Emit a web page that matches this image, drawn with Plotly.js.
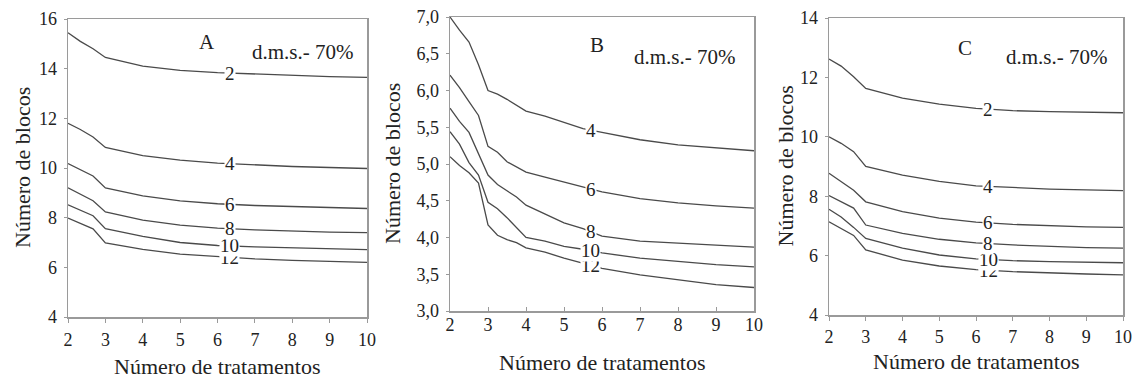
<!DOCTYPE html>
<html>
<head>
<meta charset="utf-8">
<script src="https://cdn.plot.ly/plotly-3.0.1.min.js"></script>
<style>html,body{margin:0;padding:0;background:#fff;}#chart{width:1139px;height:380px;}</style>
</head>
<body>
<div id="chart"></div>
<script>
// ---- Data ----
const curveNames = ['2', '4', '6', '8', '10', '12'];

// Panel A
const xA = [2, 2.33, 2.67, 3, 4, 5, 6, 7, 8, 9, 10];
const a2  = [15.45, 15.1, 14.8, 14.45, 14.1, 13.93, 13.84, 13.78, 13.73, 13.68, 13.65];
const a4  = [11.8, 11.55, 11.25, 10.83, 10.5, 10.32, 10.2, 10.12, 10.06, 10.02, 9.98];
const a6  = [10.18, 9.95, 9.68, 9.2, 8.88, 8.68, 8.56, 8.49, 8.45, 8.41, 8.37];
const a8  = [9.2, 8.95, 8.68, 8.23, 7.9, 7.7, 7.58, 7.51, 7.46, 7.42, 7.40];
const a10 = [8.52, 8.3, 8.08, 7.56, 7.25, 7.0, 6.88, 6.82, 6.78, 6.74, 6.71];
const a12 = [7.98, 7.77, 7.55, 6.98, 6.72, 6.53, 6.42, 6.34, 6.28, 6.24, 6.20];

// Panel B
const xB = [2, 2.25, 2.5, 2.75, 3, 3.25, 3.5, 3.75, 4, 4.5, 5, 5.5, 6, 7, 8, 9, 10];
const b4  = [7.0, 6.82, 6.66, 6.35, 6.0, 5.95, 5.88, 5.80, 5.72, 5.65, 5.57, 5.48, 5.43, 5.33, 5.26, 5.22, 5.18];
const b6  = [6.21, 6.04, 5.85, 5.66, 5.24, 5.16, 5.03, 4.96, 4.89, 4.82, 4.75, 4.68, 4.62, 4.53, 4.47, 4.43, 4.40];
const b8  = [5.76, 5.58, 5.43, 5.15, 4.85, 4.72, 4.63, 4.55, 4.44, 4.32, 4.20, 4.12, 4.02, 3.95, 3.92, 3.89, 3.87];
const b10 = [5.44, 5.27, 5.02, 4.85, 4.48, 4.39, 4.27, 4.13, 4.0, 3.95, 3.88, 3.84, 3.79, 3.72, 3.67, 3.63, 3.60];
const b12 = [5.10, 4.98, 4.88, 4.74, 4.17, 4.03, 3.97, 3.93, 3.86, 3.80, 3.72, 3.65, 3.58, 3.49, 3.42, 3.36, 3.32];

// Panel C
const xC = [2, 2.33, 2.67, 3, 4, 5, 6, 7, 8, 9, 10];
const c2  = [12.62, 12.38, 12.02, 11.63, 11.3, 11.1, 10.96, 10.88, 10.85, 10.83, 10.81];
const c4  = [10.0, 9.78, 9.5, 9.0, 8.71, 8.5, 8.35, 8.29, 8.24, 8.21, 8.19];
const c6  = [8.77, 8.5, 8.2, 7.81, 7.48, 7.26, 7.13, 7.05, 7.0, 6.97, 6.95];
const c8  = [8.02, 7.82, 7.6, 7.03, 6.75, 6.55, 6.43, 6.36, 6.31, 6.27, 6.25];
const c10 = [7.56, 7.3, 6.95, 6.58, 6.25, 6.02, 5.89, 5.83, 5.80, 5.78, 5.76];
const c12 = [7.14, 6.92, 6.68, 6.19, 5.85, 5.65, 5.53, 5.46, 5.41, 5.38, 5.35];

const xTicks = [2, 3, 4, 5, 6, 7, 8, 9, 10];
const xTitle = 'Número de tratamentos';
const yTitle = 'Número de blocos';
const dmsText = 'd.m.s.- 70%';

// ---- Build ----
const FONT = 'Liberation Serif';
const LINE = '#4a4a4a';
const AX = '#9a9a9a';

const panels = [
  {id: '', x: xA, series: [a2, a4, a6, a8, a10, a12], names: curveNames, letter: 'A',
   labelX: 6.33, yr: [4, 16], dtick: 2, fmt: 'd', px: [68, 367], py: [19, 317],
   letterPos: [207, 42], dmsPos: [303, 52], ytitleX: 22, xtitleY: 366, xtickStand: 2, xticks: 'outside'},
  {id: '2', x: xB, series: [b4, b6, b8, b10, b12], names: ['4', '6', '8', '10', '12'], letter: 'B',
   labelX: 5.7, yr: [3, 7], dtick: 0.5, fmt: '.1f', px: [450, 754], py: [17, 311],
   letterPos: [597, 45], dmsPos: [685, 57], ytitleX: 392, xtitleY: 362, xtickStand: -3, xticks: 'inside'},
  {id: '3', x: xC, series: [c2, c4, c6, c8, c10, c12], names: curveNames, letter: 'C',
   labelX: 6.33, yr: [4, 14], dtick: 2, fmt: 'd', px: [829, 1123], py: [18, 315],
   letterPos: [965, 48], dmsPos: [1057, 57], ytitleX: 785, xtitleY: 361, xtickStand: 1, xticks: 'outside'}
];

const W = 1139, H = 380;
const traces = [];
const annotations = [];
const layout = {
  width: W, height: H,
  margin: {l: 0, r: 0, t: 0, b: 0},
  paper_bgcolor: '#fff', plot_bgcolor: '#fff',
  showlegend: false,
  separators: ',.',
  font: {family: FONT, color: '#222', size: 17},
  hovermode: false,
  annotations: annotations
};

function interp(xs, ys, x) {
  for (let i = 0; i < xs.length - 1; i++) {
    if (x >= xs[i] && x <= xs[i + 1]) {
      const t = (x - xs[i]) / (xs[i + 1] - xs[i]);
      return ys[i] + t * (ys[i + 1] - ys[i]);
    }
  }
  return ys[ys.length - 1];
}

panels.forEach(p => {
  const xa = 'x' + p.id, ya = 'y' + p.id;
  p.series.forEach((ys, i) => {
    traces.push({x: p.x, y: ys, xaxis: xa, yaxis: ya, type: 'scatter', mode: 'lines',
      line: {color: LINE, width: 1.3}, hoverinfo: 'skip', name: p.names[i]});
  });
  for (let i = p.series.length - 1; i >= 0; i--) {
    annotations.push({xref: xa, yref: ya, x: p.labelX, y: interp(p.x, p.series[i], p.labelX),
      text: p.names[i], showarrow: false, bgcolor: '#fff', borderpad: 0,
      font: {family: FONT, size: 19, color: '#222'}, xanchor: 'center', yanchor: 'middle'});
  }
  annotations.push({xref: 'paper', yref: 'paper', x: p.letterPos[0] / W, y: 1 - p.letterPos[1] / H,
    text: p.letter, showarrow: false, font: {family: FONT, size: 21, color: '#222'},
    xanchor: 'center', yanchor: 'middle'});
  annotations.push({xref: 'paper', yref: 'paper', x: p.dmsPos[0] / W, y: 1 - p.dmsPos[1] / H,
    text: dmsText, showarrow: false, font: {family: FONT, size: 21, color: '#222'},
    xanchor: 'center', yanchor: 'middle'});
  annotations.push({xref: 'paper', yref: 'paper', x: (p.px[0] + p.px[1]) / 2 / W, y: 1 - p.xtitleY / H,
    text: xTitle, showarrow: false, font: {family: FONT, size: 22, color: '#222'},
    xanchor: 'center', yanchor: 'middle'});
  annotations.push({xref: 'paper', yref: 'paper', x: p.ytitleX / W, y: 1 - (p.py[0] + p.py[1]) / 2 / H,
    text: yTitle, showarrow: false, textangle: -90, font: {family: FONT, size: 22, color: '#222'},
    xanchor: 'center', yanchor: 'middle'});

  layout['xaxis' + p.id] = {
    domain: [p.px[0] / W, p.px[1] / W], anchor: ya, range: [2, 10],
    tickvals: xTicks, ticks: p.xticks, ticklen: 4, tickcolor: AX,
    showline: true, linecolor: AX, linewidth: 1.5, mirror: true,
    showgrid: false, zeroline: false, ticklabelstandoff: p.xtickStand,
    tickfont: {family: FONT, size: 18, color: '#222'}
  };
  layout['yaxis' + p.id] = {
    domain: [1 - p.py[1] / H, 1 - p.py[0] / H], anchor: xa, range: p.yr,
    dtick: p.dtick, tick0: p.yr[0], tickformat: p.fmt, ticks: 'outside', ticklen: 3, tickcolor: AX,
    showline: true, linecolor: AX, linewidth: 1.5, mirror: true,
    showgrid: false, zeroline: false, ticklabelstandoff: 3,
    tickfont: {family: FONT, size: 18, color: '#222'}
  };
});

Plotly.newPlot('chart', traces, layout, {staticPlot: true, displayModeBar: false});
</script>
</body>
</html>
